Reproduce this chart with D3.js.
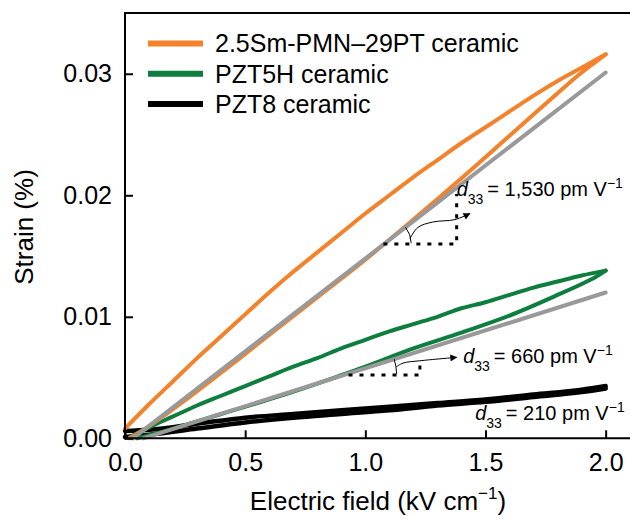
<!DOCTYPE html>
<html>
<head>
<meta charset="utf-8">
<script src="https://cdn.jsdelivr.net/npm/d3@7"></script>
<style>
  html, body { margin: 0; padding: 0; background: #fff; }
  svg { display: block; font-family: "Liberation Sans", Arial, Helvetica, sans-serif; }
</style>
</head>
<body>
<svg id="chart" width="630" height="525"></svg>
<script>
// ---------------- data ----------------
const xTicks = [0.0, 0.5, 1.0, 1.5, 2.0];
const yTicks = [0.00, 0.01, 0.02, 0.03];

const seriesNames = ["2.5Sm-PMN\u201329PT ceramic", "PZT5H ceramic", "PZT8 ceramic"];

// 2.5Sm-PMN-29PT (field kV/cm, strain %)
const smUpper = [[0,0.0008],[0.1,0.0028],[0.2,0.0047],[0.3,0.0066],[0.4,0.0084],[0.5,0.0102],[0.6,0.0120],[0.7,0.0137],[0.8,0.0153],[0.9,0.0169],[1.0,0.0185],[1.1,0.0200],[1.2,0.0215],[1.3,0.0229],[1.4,0.0243],[1.5,0.0256],[1.6,0.0269],[1.7,0.0282],[1.8,0.0294],[1.9,0.0305],[2.0,0.0316]];
const smLower = [[0.02,0.0],[0.1,0.0010],[0.2,0.0024],[0.4,0.0054],[0.6,0.0085],[0.8,0.0116],[1.0,0.0147],[1.2,0.0180],[1.4,0.0214],[1.6,0.0249],[1.8,0.0284],[1.9,0.0301],[1.96,0.0310],[2.0,0.0316]];

// PZT5H
const pzt5hUpper = [[0.02,0.0001],[0.1,0.0009],[0.2,0.0018],[0.3,0.0027],[0.4,0.0035],[0.5,0.0043],[0.6,0.0051],[0.7,0.0059],[0.8,0.0066],[0.9,0.0074],[1.0,0.0081],[1.1,0.0088],[1.2,0.0094],[1.3,0.0100],[1.4,0.0107],[1.5,0.0112],[1.6,0.0118],[1.7,0.0124],[1.8,0.0129],[1.9,0.0134],[2.0,0.0138]];
const pzt5hLower = [[0.05,0.0],[0.2,0.0008],[0.4,0.0020],[0.6,0.0032],[0.8,0.0045],[0.9,0.0052],[1.0,0.0059],[1.2,0.0074],[1.4,0.0087],[1.6,0.0101],[1.8,0.0118],[1.9,0.0127],[1.96,0.0133],[2.0,0.0138]];

// PZT8
const pzt8Upper = [[0,0.0006],[0.1,0.0007],[0.3,0.0012],[0.5,0.0017],[0.7,0.0020],[0.9,0.0023],[1.1,0.0026],[1.3,0.0029],[1.5,0.0032],[1.7,0.0036],[1.9,0.0040],[2.0,0.0043]];
const pzt8Lower = [[0,0.0001],[0.1,0.0003],[0.3,0.0008],[0.5,0.0013],[0.7,0.0017],[0.9,0.0020],[1.1,0.0023],[1.3,0.0027],[1.5,0.0030],[1.7,0.0034],[1.9,0.0038],[2.0,0.0041]];

// linear fits (grey)
const smFit = [[0.033,0.0],[2.0,0.0301]];
const pzt5hFit = [[0.076,0.0],[2.0,0.0120]];

// d33 annotations
const d33Labels = ["1,530", "660", "210"];
const d33Pos = [[1.38,0.0199],[1.407,0.00617],[1.457,0.00151]];
const smTri = [[1.075,0.0160],[1.38,0.0160],[1.38,0.0201]];
const pzt5hTri = [[0.930,0.0052],[1.227,0.0052],[1.227,0.0064]];
const smArrow = [[1.186,0.01645],[1.219,0.01736],[1.281,0.0178],[1.373,0.0180],[1.435,0.0185]];
const pzt5hArrow = [[1.128,0.00587],[1.157,0.00619],[1.227,0.00638],[1.380,0.00666]];

// ---------------- drawing ----------------
const colors = ["#F4822B", "#0E7E3E", "#000000"];
const grey = "#999999";

const svg = d3.select("#chart");
const x = d3.scaleLinear().domain([0, 2.11]).range([125, 632.1]);
const y = d3.scaleLinear().domain([0, 0.035]).range([438.3, 13]);

const line = d3.line().x(d => x(d[0])).y(d => y(d[1])).curve(d3.curveMonotoneX);
const lineLin = d3.line().x(d => x(d[0])).y(d => y(d[1]));
const lineSmooth = d3.line().x(d => x(d[0])).y(d => y(d[1])).curve(d3.curveCatmullRom);

const plot = svg.append("g");

function drawPath(data, color, w, gen) {
  plot.append("path").datum(data)
    .attr("d", gen || line)
    .attr("fill", "none")
    .attr("stroke", color)
    .attr("stroke-width", w)
    .attr("stroke-linecap", "round")
    .attr("stroke-linejoin", "round");
}

// PZT8
drawPath(pzt8Lower, colors[2], 4.5);
drawPath(pzt8Upper, colors[2], 4.5);
// PZT5H
drawPath(pzt5hLower, colors[1], 4);
drawPath(pzt5hUpper, colors[1], 4);
drawPath(pzt5hFit, grey, 4, lineLin);
// Sm-PMN-PT
drawPath(smLower, colors[0], 4);
drawPath(smUpper, colors[0], 4);
drawPath(smFit, grey, 4, lineLin);

// dotted slope triangles
[smTri, pzt5hTri].forEach(t => {
  plot.append("path").datum(t)
    .attr("d", lineLin)
    .attr("fill", "none")
    .attr("stroke", "#000")
    .attr("stroke-width", 3)
    .attr("stroke-dasharray", "4,7");
});

// angle arcs
function angleArc(fit, sLevel, r) {
  const slope = (fit[1][1] - fit[0][1]) / (fit[1][0] - fit[0][0]);
  const xv = fit[0][0] + (sLevel - fit[0][1]) / slope;
  const cx = x(xv), cy = y(sLevel);
  const pxSlope = (y(fit[0][1]) - y(fit[1][1])) / (x(fit[1][0]) - x(fit[0][0]));
  const ang = Math.atan(pxSlope);
  const x2 = cx + r * Math.cos(ang), y2 = cy - r * Math.sin(ang);
  plot.append("path")
    .attr("d", `M${cx + r},${cy - 1}A${r},${r} 0 0 0 ${x2},${y2}`)
    .attr("fill", "none").attr("stroke", "#000").attr("stroke-width", 1);
}
angleArc(smFit, 0.0160, 27);
angleArc(pzt5hFit, 0.0052, 53);

// arrows
svg.append("defs").append("marker")
  .attr("id", "ah").attr("viewBox", "0 0 10 10")
  .attr("refX", 9).attr("refY", 5)
  .attr("markerWidth", 9).attr("markerHeight", 7)
  .attr("markerUnits", "userSpaceOnUse")
  .attr("orient", "auto")
  .append("path").attr("d", "M0,0L10,5L0,10Z").attr("fill", "#000");

[smArrow, pzt5hArrow].forEach(a => {
  plot.append("path").datum(a)
    .attr("d", lineSmooth)
    .attr("fill", "none").attr("stroke", "#000").attr("stroke-width", 1)
    .attr("marker-end", "url(#ah)");
});

// d33 labels
d33Labels.forEach((v, i) => {
  const t = svg.append("text")
    .attr("x", x(d33Pos[i][0])).attr("y", y(d33Pos[i][1]))
    .attr("font-size", 20).attr("fill", "#000");
  t.append("tspan").attr("font-style", "italic").text("d");
  t.append("tspan").attr("font-size", 14).attr("dy", 8).text("33");
  t.append("tspan").attr("dy", -8).text("\u2009= " + v + " pm V");
  t.append("tspan").attr("font-size", 14).attr("dy", -8).text("\u22121");
});

// frame
const frame = svg.append("g").attr("stroke", "#000").attr("stroke-width", 2).attr("fill", "none");
frame.append("line").attr("x1", x(0)).attr("x2", x(0)).attr("y1", y(0.035)).attr("y2", y(0) + 1);
frame.append("line").attr("x1", x(0) - 1).attr("x2", 640).attr("y1", y(0.035)).attr("y2", y(0.035));
frame.append("line").attr("x1", x(0) - 1).attr("x2", 640).attr("y1", y(0)).attr("y2", y(0));

// axes with inward ticks
const xAxis = d3.axisBottom(x).tickValues(xTicks).tickFormat(d3.format(".1f")).tickSizeInner(-8).tickSizeOuter(0).tickPadding(15);
const yAxis = d3.axisLeft(y).tickValues(yTicks).tickFormat(d3.format(".2f")).tickSizeInner(-8).tickSizeOuter(0).tickPadding(13);

const gx = svg.append("g").attr("transform", `translate(0,${y(0)})`).call(xAxis);
const gy = svg.append("g").attr("transform", `translate(${x(0)},0)`).call(yAxis);
[gx, gy].forEach(g => {
  g.select(".domain").remove();
  g.selectAll(".tick line").attr("stroke", "#000").attr("stroke-width", 2);
  g.selectAll(".tick text").attr("font-size", 25).attr("fill", "#000")
    .attr("font-family", "'Liberation Sans', Arial, sans-serif");
});

// axis titles
const xt = svg.append("text").attr("x", 378).attr("y", 510).attr("text-anchor", "middle")
  .attr("font-size", 26).attr("fill", "#000");
xt.append("tspan").text("Electric field (kV cm");
xt.append("tspan").attr("font-size", 17).attr("dy", -11).text("\u22121");
xt.append("tspan").attr("dy", 11).text(")");

svg.append("text")
  .attr("transform", "translate(33,227) rotate(-90)")
  .attr("text-anchor", "middle").attr("font-size", 26).attr("fill", "#000")
  .text("Strain (%)");

// legend
const legend = svg.append("g");
seriesNames.forEach((n, i) => {
  const cy = 43.5 + i * 30.3;
  legend.append("line").attr("x1", 148).attr("x2", 203).attr("y1", cy).attr("y2", cy)
    .attr("stroke", colors[i]).attr("stroke-width", 6);
  legend.append("text").attr("x", 215).attr("y", cy + 8.7).attr("font-size", 25)
    .attr("fill", "#000").text(n);
});
</script>
</body>
</html>
